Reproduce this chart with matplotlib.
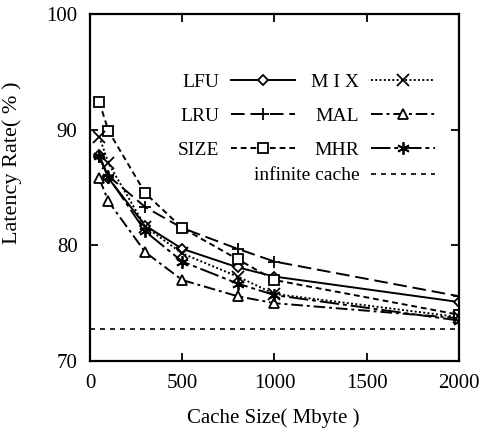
import matplotlib
matplotlib.use("Agg")
import matplotlib.pyplot as plt

plt.rcParams['font.family'] = ['Liberation Serif', 'DejaVu Serif']

cache_size = [50, 100, 300, 500, 800, 1000, 2000]
lfu = [87.8, 85.8, 81.7, 79.7, 78.1, 77.3, 75.1]
lru = [87.6, 86.0, 83.3, 81.5, 79.7, 78.6, 75.6]
size = [92.4, 89.9, 84.5, 81.5, 78.8, 77.0, 74.0]
mix = [89.4, 87.1, 81.6, 79.3, 77.3, 75.8, 73.8]
mal = [85.8, 83.8, 79.4, 77.0, 75.6, 75.0, 73.7]
mhr = [87.7, 85.9, 81.2, 78.6, 76.7, 75.7, 73.5]
infinite_cache = 72.8

xticks = [0, 500, 1000, 1500, 2000]
yticks = [70, 80, 90, 100]

fig = plt.figure(figsize=(4.91, 4.37), dpi=100)
ax = fig.add_axes([0.1833, 0.1739, 0.7515, 0.794])

lw = 1.4
ms = 7
common = dict(color='black', linewidth=lw, markerfacecolor='white',
              markeredgecolor='black', markeredgewidth=1.3)

h_lfu, = ax.plot(cache_size, lfu, linestyle='-', marker='D', markersize=5.5, label='LFU', **common)
h_lru, = ax.plot(cache_size, lru, linestyle=(0, (7, 3)), marker='+', markersize=9, label='LRU', **common)
h_size, = ax.plot(cache_size, size, linestyle=(0, (3, 2)), marker='s', markersize=ms, label='SIZE', **common)
h_mix, = ax.plot(cache_size, mix, linestyle=(0, (1, 1.2)), marker='x', markersize=8, label='M I X', **common)
h_mal, = ax.plot(cache_size, mal, linestyle=(0, (6, 2, 1.5, 2)), marker='^', markersize=ms, label='MAL', **common)
h_mhr, = ax.plot(cache_size, mhr, linestyle=(0, (10, 2, 2, 2)), marker=(6, 2, 0), markersize=9, label='MHR', **common)
h_inf = ax.axhline(infinite_cache, color='black', linewidth=1.2, linestyle=(0, (3, 3)), label='infinite cache')

ax.set_xlim(0, 2000)
ax.set_ylim(70, 100)
ax.set_xticks(xticks)
ax.set_yticks(yticks)
ax.tick_params(direction='in', length=6, width=1.3, top=True, right=True,
               labelsize=15, pad=9)
for s in ax.spines.values():
    s.set_linewidth(1.6)

ax.set_xlabel('Cache Size( Mbyte )', fontsize=15)
ax.set_ylabel('Latency Rate( % )', fontsize=16)
ax.xaxis.set_label_coords(0.496, -0.135)
ax.yaxis.set_label_coords(-0.185, 0.57)

leg_kw = dict(frameon=False, markerfirst=False, fontsize=14, handlelength=3.3,
              handletextpad=0.6, labelspacing=0.85, borderpad=0, borderaxespad=0,
              loc='upper right')
leg1 = ax.legend(handles=[h_lfu, h_lru, h_size], bbox_to_anchor=(0.556, 0.83), **leg_kw)
ax.add_artist(leg1)
leg2 = ax.legend(handles=[h_mix, h_mal, h_mhr], bbox_to_anchor=(0.935, 0.83), **leg_kw)
ax.add_artist(leg2)
leg3 = ax.legend(handles=[h_inf], bbox_to_anchor=(0.935, 0.56), **leg_kw)

fig.savefig('out.png', dpi=100)
